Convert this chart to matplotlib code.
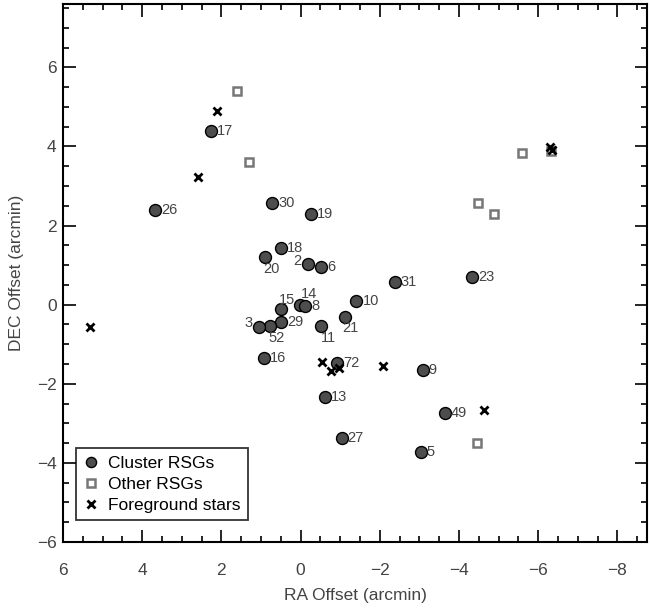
import matplotlib
matplotlib.use("Agg")
import matplotlib.pyplot as plt
from matplotlib.ticker import MultipleLocator

plt.rcParams['font.family'] = ['Liberation Sans', 'DejaVu Sans']

# cluster red supergiants (RA, DEC offsets in arcmin) and their IDs
cl_id = ['17', '26', '30', '19', '18', '20', '2', '6', '31', '23', '15', '14', '8',
         '10', '21', '29', '52', '3', '11', '16', '72', '13', '9', '49', '27', '5']
cl_ra = [2.26, 3.68, 0.72, -0.26, 0.49, 0.90, -0.19, -0.52, -2.38, -4.33, 0.49, 0.02, -0.11,
         -1.41, -1.11, 0.50, 0.77, 1.06, -0.52, 0.92, -0.93, -0.62, -3.08, -3.65, -1.04, -3.03]
cl_dec = [4.38, 2.40, 2.57, 2.29, 1.43, 1.20, 1.03, 0.95, 0.57, 0.70, -0.12, -0.02, -0.03,
          0.08, -0.32, -0.44, -0.53, -0.57, -0.55, -1.34, -1.47, -2.34, -1.64, -2.75, -3.38, -3.72]

# label offsets in pixels (dx, dy, align); default is right of the symbol
lab_off = {
    '20': (7, -12, 'center'),
    '2': (-11, 3, 'center'),
    '15': (6, 9, 'center'),
    '14': (9, 11, 'center'),
    '52': (7, -12, 'center'),
    '3': (-10, 4, 'center'),
    '11': (7, -12, 'center'),
    '21': (6, -11, 'center'),
}

# other RSGs
ot_ra = [1.61, 1.30, -5.60, -4.49, -4.89, -6.32, -4.45]
ot_dec = [5.39, 3.60, 3.83, 2.58, 2.28, 3.89, -3.51]

# foreground stars
fg_ra = [2.11, 2.58, 5.32, -6.30, -6.35, -0.53, -0.77, -0.98, -2.09, -4.64]
fg_dec = [4.90, 3.23, -0.57, 3.98, 3.90, -1.46, -1.67, -1.61, -1.55, -2.66]

fig = plt.figure(figsize=(6.5, 6.08), dpi=100)
ax = fig.add_axes([63 / 650, 1 - 542 / 608, 584 / 650, 538 / 608])

ax.plot(cl_ra, cl_dec, 'o', ms=8.6, mfc='#4d4d4d', mec='black', mew=1.0,
        ls='none', label='Cluster RSGs', zorder=3)
ax.plot(ot_ra, ot_dec, 's', ms=6, mfc='white', mec='#777777', mew=1.8,
        ls='none', label='Other RSGs', zorder=2)
ax.plot(fg_ra, fg_dec, 'x', ms=6, mec='black', mew=2.0,
        ls='none', label='Foreground stars', zorder=4)

for name, x, y in zip(cl_id, cl_ra, cl_dec):
    dx, dy, ha = lab_off.get(name, (6, 0, 'left'))
    ax.annotate(name, (x, y), xytext=(dx * 0.72, dy * 0.72), textcoords='offset points',
                ha=ha, va='center', fontsize=10.5, color='#444444', zorder=5)

ax.set_xlim(6, -8.75)
ax.set_ylim(-6.0, 7.6)
ax.xaxis.set_major_locator(MultipleLocator(2))
ax.xaxis.set_minor_locator(MultipleLocator(0.5))
ax.yaxis.set_major_locator(MultipleLocator(2))
ax.yaxis.set_minor_locator(MultipleLocator(0.5))
ax.tick_params(which='both', direction='in', top=True, right=True,
               labelsize=12.5, labelcolor='#444444', width=1.2)
ax.tick_params(which='major', length=9)
ax.tick_params(which='minor', length=4.5)
ax.tick_params(axis='x', pad=15)
ax.tick_params(axis='y', pad=4.5)
for s in ax.spines.values():
    s.set_linewidth(1.5)

ax.set_xlabel('RA Offset (arcmin)', fontsize=12.5, color='#444444', labelpad=7)
ax.set_ylabel('DEC Offset (arcmin)', fontsize=12.5, color='#444444', labelpad=9)

leg = ax.legend(loc='lower left', bbox_to_anchor=(0.022, 0.04), borderaxespad=0,
                fontsize=12.5, frameon=True, fancybox=False, edgecolor='black',
                handlelength=0.9, handletextpad=0.5, labelspacing=0.32,
                borderpad=0.45, markerscale=0.85)
leg.get_frame().set_linewidth(1.3)

fig.savefig('out.png', dpi=100)
